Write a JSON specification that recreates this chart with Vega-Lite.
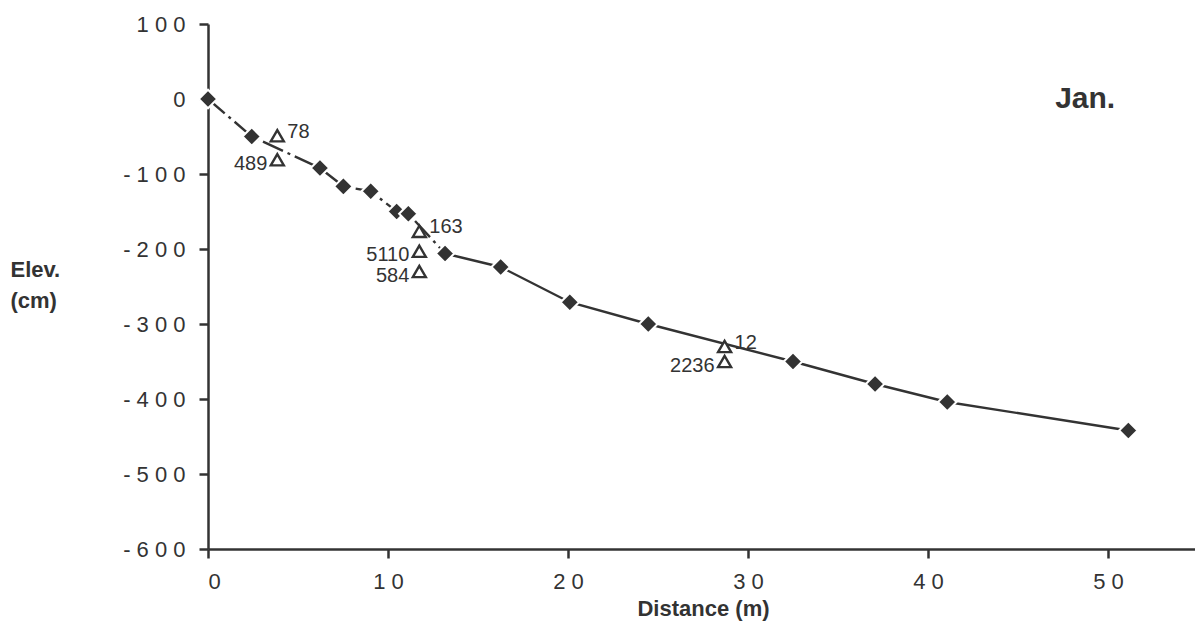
{
  "$schema": "https://vega.github.io/schema/vega-lite/v6.json",
  "width": 990,
  "height": 525,
  "autosize": {"type": "none"},
  "padding": {"left": 208, "top": 24, "right": 0, "bottom": 92},
  "background": "white",
  "config": {
    "view": {"stroke": null},
    "font": "Liberation Sans",
    "axis": {
      "grid": false,
      "domainColor": "#333333",
      "domainWidth": 2.5,
      "tickColor": "#333333",
      "tickWidth": 2.5,
      "tickSize": 9,
      "labelColor": "#333333",
      "labelFontSize": 22,
      "labelFont": "Liberation Sans",
      "titleColor": "#333333",
      "titleFont": "Liberation Sans",
      "titleFontWeight": "bold",
      "titleFontSize": 22
    },
    "axisX": {
      "labelPadding": 13,
      "titlePadding": 6
    },
    "axisY": {
      "labelPadding": 14,
      "titleAngle": 0,
      "titleAlign": "left",
      "titleBaseline": "top",
      "titleX": -198,
      "titleY": 235,
      "titleLineHeight": 31
    }
  },
  "datasets": {
    "profile": [
      {"distance": 0, "elev": 0},
      {"distance": 2.43, "elev": -50},
      {"distance": 6.22, "elev": -92},
      {"distance": 7.52, "elev": -116.5},
      {"distance": 9.04, "elev": -123},
      {"distance": 10.48, "elev": -150},
      {"distance": 11.13, "elev": -153},
      {"distance": 13.17, "elev": -206},
      {"distance": 16.26, "elev": -224},
      {"distance": 20.1, "elev": -271},
      {"distance": 24.46, "elev": -300},
      {"distance": 32.5, "elev": -350},
      {"distance": 37.06, "elev": -380},
      {"distance": 41.07, "elev": -404},
      {"distance": 51.13, "elev": -442}
    ],
    "survey": [
      {"distance": 3.85, "elev": -81, "count": "489", "side": "left"},
      {"distance": 3.85, "elev": -49, "count": "78", "side": "right"},
      {"distance": 11.74, "elev": -230, "count": "584", "side": "left"},
      {"distance": 11.74, "elev": -203, "count": "5110", "side": "left"},
      {"distance": 11.74, "elev": -176.5, "count": "163", "side": "right"},
      {"distance": 28.7, "elev": -350, "count": "2236", "side": "left"},
      {"distance": 28.7, "elev": -330, "count": "12", "side": "right"}
    ]
  },
  "layer": [
    {
      "data": {"name": "profile"},
      "transform": [{"filter": "datum.distance <= 13.2"}],
      "mark": {"type": "line", "color": "#333333", "strokeWidth": 2.4, "strokeDash": [22, 5, 3, 5]},
      "encoding": {
        "x": {"field": "distance", "type": "quantitative", "scale": {"domain": [0, 55], "nice": false, "zero": false}, "title": "Distance  (m)", "axis": {"values": [0, 10, 20, 30, 40, 50], "labelExpr": "join(split(toString(datum.value), ''), ' ')"}},
        "y": {"field": "elev", "type": "quantitative", "scale": {"domain": [-600, 100], "nice": false, "zero": false}, "title": ["Elev.", "(cm)"], "axis": {"values": [-600, -500, -400, -300, -200, -100, 0, 100], "labelExpr": "join(split(toString(datum.value), ''), ' ')"}}
      }
    },
    {
      "data": {"name": "profile"},
      "transform": [{"filter": "datum.distance >= 13.1"}],
      "mark": {"type": "line", "color": "#333333", "strokeWidth": 2.4},
      "encoding": {
        "x": {"field": "distance", "type": "quantitative", "title": "Distance  (m)", "axis": {"values": [0, 10, 20, 30, 40, 50], "labelExpr": "join(split(toString(datum.value), ''), ' ')"}},
        "y": {"field": "elev", "type": "quantitative", "title": ["Elev.", "(cm)"], "axis": {"values": [-600, -500, -400, -300, -200, -100, 0, 100], "labelExpr": "join(split(toString(datum.value), ''), ' ')"}}
      }
    },
    {
      "data": {"name": "profile"},
      "mark": {"type": "point", "shape": "diamond", "filled": true, "size": 340, "fill": "#333333", "stroke": "white", "strokeWidth": 2, "opacity": 1},
      "encoding": {
        "x": {"field": "distance", "type": "quantitative", "title": "Distance  (m)", "axis": {"values": [0, 10, 20, 30, 40, 50], "labelExpr": "join(split(toString(datum.value), ''), ' ')"}},
        "y": {"field": "elev", "type": "quantitative", "title": ["Elev.", "(cm)"], "axis": {"values": [-600, -500, -400, -300, -200, -100, 0, 100], "labelExpr": "join(split(toString(datum.value), ''), ' ')"}}
      }
    },
    {
      "data": {"name": "survey"},
      "mark": {"type": "point", "shape": "triangle-up", "filled": true, "size": 170, "fill": "white", "stroke": "#333333", "strokeWidth": 2.4, "opacity": 1},
      "encoding": {
        "x": {"field": "distance", "type": "quantitative", "title": "Distance  (m)", "axis": {"values": [0, 10, 20, 30, 40, 50], "labelExpr": "join(split(toString(datum.value), ''), ' ')"}},
        "y": {"field": "elev", "type": "quantitative", "title": ["Elev.", "(cm)"], "axis": {"values": [-600, -500, -400, -300, -200, -100, 0, 100], "labelExpr": "join(split(toString(datum.value), ''), ' ')"}}
      }
    },
    {
      "data": {"name": "survey"},
      "transform": [{"filter": "datum.side == 'right'"}],
      "mark": {"type": "text", "align": "left", "baseline": "middle", "dx": 10, "dy": -4, "fontSize": 20, "color": "#333333"},
      "encoding": {
        "x": {"field": "distance", "type": "quantitative", "title": "Distance  (m)", "axis": {"values": [0, 10, 20, 30, 40, 50], "labelExpr": "join(split(toString(datum.value), ''), ' ')"}},
        "y": {"field": "elev", "type": "quantitative", "title": ["Elev.", "(cm)"], "axis": {"values": [-600, -500, -400, -300, -200, -100, 0, 100], "labelExpr": "join(split(toString(datum.value), ''), ' ')"}},
        "text": {"field": "count"}
      }
    },
    {
      "data": {"name": "survey"},
      "transform": [{"filter": "datum.side == 'left'"}],
      "mark": {"type": "text", "align": "right", "baseline": "middle", "dx": -10, "dy": 4, "fontSize": 20, "color": "#333333"},
      "encoding": {
        "x": {"field": "distance", "type": "quantitative", "title": "Distance  (m)", "axis": {"values": [0, 10, 20, 30, 40, 50], "labelExpr": "join(split(toString(datum.value), ''), ' ')"}},
        "y": {"field": "elev", "type": "quantitative", "title": ["Elev.", "(cm)"], "axis": {"values": [-600, -500, -400, -300, -200, -100, 0, 100], "labelExpr": "join(split(toString(datum.value), ''), ' ')"}},
        "text": {"field": "count"}
      }
    },
    {
      "data": {"values": [{"month": "Jan."}]},
      "mark": {"type": "text", "align": "right", "baseline": "alphabetic", "fontSize": 30, "fontWeight": "bold", "color": "#333333"},
      "encoding": {
        "x": {"datum": 50.4, "type": "quantitative", "title": "Distance  (m)", "axis": {"values": [0, 10, 20, 30, 40, 50], "labelExpr": "join(split(toString(datum.value), ''), ' ')"}},
        "y": {"datum": -11.6, "type": "quantitative", "title": ["Elev.", "(cm)"], "axis": {"values": [-600, -500, -400, -300, -200, -100, 0, 100], "labelExpr": "join(split(toString(datum.value), ''), ' ')"}},
        "text": {"field": "month"}
      }
    }
  ]
}
